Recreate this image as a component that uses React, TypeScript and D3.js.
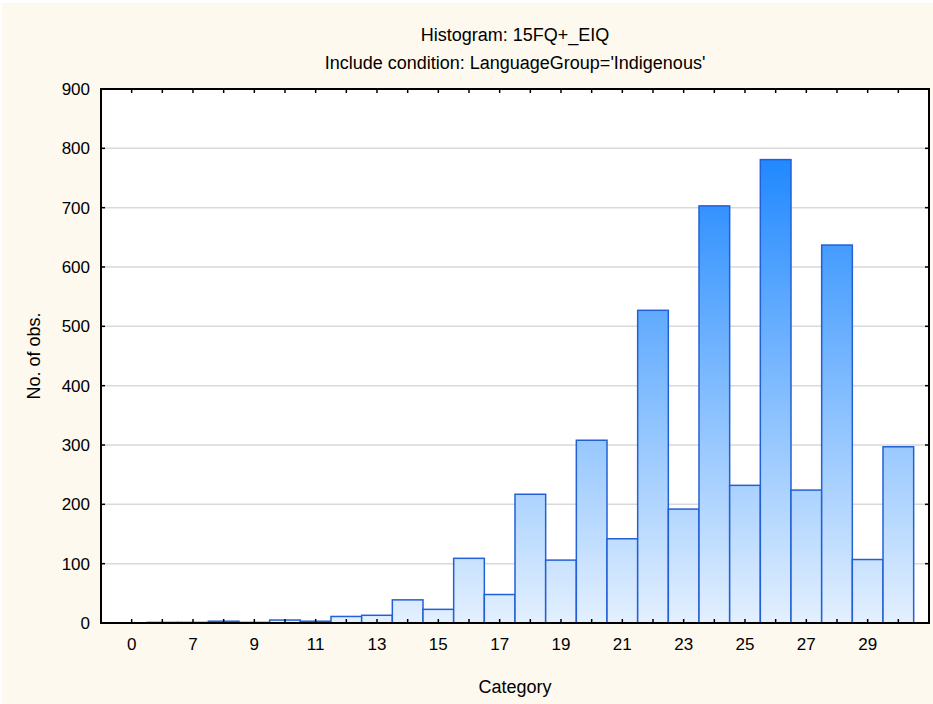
import React from "react";
import * as d3 from "d3";

const categories = ["0", "6", "7", "8", "9", "10", "11", "12", "13", "14", "15", "16", "17", "18", "19", "20", "21", "22", "23", "24", "25", "26", "27", "28", "29", "30"];
const counts = [0, 1, 1, 3, 1, 5, 3, 11, 13, 39, 23, 109, 48, 217, 106, 308, 142, 527, 192, 703, 232, 781, 224, 637, 107, 297];
const labeledCategories = ["0", "7", "9", "11", "13", "15", "17", "19", "21", "23", "25", "27", "29"];
const yTicks = [0, 100, 200, 300, 400, 500, 600, 700, 800, 900];
const titleText = "Histogram: 15FQ+_EIQ";
const subtitleText = "Include condition: LanguageGroup='Indigenous'";
const xTitle = "Category";
const yTitle = "No. of obs.";

const W = 933;
const H = 704;
const L = 101, R = 929, T = 89, B = 623;
const FONT = "'Liberation Sans', Arial, sans-serif";

export default function App() {
  const x = d3.scaleLinear().domain([-1, categories.length]).range([L, R]);
  const y = d3.scaleLinear().domain([0, 900]).range([B, T]);
  const bw = x(1) - x(0);
  return (
    <svg width={W} height={H} style={{ position: "absolute", left: 0, top: 0 }}>
      <defs>
        <linearGradient id="barGrad" gradientUnits="userSpaceOnUse" x1={0} x2={0} y1={y(800)} y2={y(0)}>
          <stop offset="0%" stopColor="#1C86FF" />
          <stop offset="100%" stopColor="#E3F0FE" />
        </linearGradient>
      </defs>
      <rect x={0} y={0} width={W} height={H} fill="#ffffff" />
      <rect x={2} y={3} width={W - 2} height={H - 3} fill="#FDF9EE" />
      <rect x={L} y={T} width={R - L} height={B - T} fill="#ffffff" />
      {yTicks.filter(t => t > 0 && t < 900).map(t => (
        <line key={"g" + t} x1={L} x2={R} y1={y(t)} y2={y(t)} stroke="#d9d9d9" strokeWidth={1.5} />
      ))}
      {counts.map((c, i) => (
        <rect key={"b" + i} x={x(i) - bw / 2} y={y(c)} width={bw} height={B - y(c)}
          fill="url(#barGrad)" stroke="#2360D6" strokeWidth={1.5} />
      ))}
      <rect x={L} y={T} width={R - L} height={B - T} fill="none" stroke="#000" strokeWidth={2} />
      {categories.map((c, i) => (
        <g key={"t" + i}>
          <line x1={x(i)} x2={x(i)} y1={B} y2={B - 4} stroke="#000" strokeWidth={1.5} />
          <line x1={x(i)} x2={x(i)} y1={T} y2={T + 4} stroke="#000" strokeWidth={1.5} />
        </g>
      ))}
      {yTicks.map(t => (
        <g key={"yt" + t}>
          <line x1={L} x2={L + 4} y1={y(t)} y2={y(t)} stroke="#000" strokeWidth={1.5} />
          <line x1={R} x2={R - 4} y1={y(t)} y2={y(t)} stroke="#000" strokeWidth={1.5} />
          <text x={90} y={y(t)} dy="0.35em" textAnchor="end" fontFamily={FONT} fontSize={17} fill="#000">{t}</text>
        </g>
      ))}
      {categories.map((c, i) => labeledCategories.includes(c) ? (
        <text key={"xl" + i} x={x(i)} y={650} textAnchor="middle" fontFamily={FONT} fontSize={17} fill="#000">{c}</text>
      ) : null)}
      <text x={(L + R) / 2} y={41} textAnchor="middle" fontFamily={FONT} fontSize={18} fill="#000">{titleText}</text>
      <text x={(L + R) / 2} y={69} textAnchor="middle" fontFamily={FONT} fontSize={18} fill="#000">{subtitleText}</text>
      <text x={(L + R) / 2} y={693} textAnchor="middle" fontFamily={FONT} fontSize={18} fill="#000">{xTitle}</text>
      <text transform={`translate(40, ${(T + B) / 2}) rotate(-90)`} textAnchor="middle" fontFamily={FONT} fontSize={18} fill="#000">{yTitle}</text>
    </svg>
  );
}
